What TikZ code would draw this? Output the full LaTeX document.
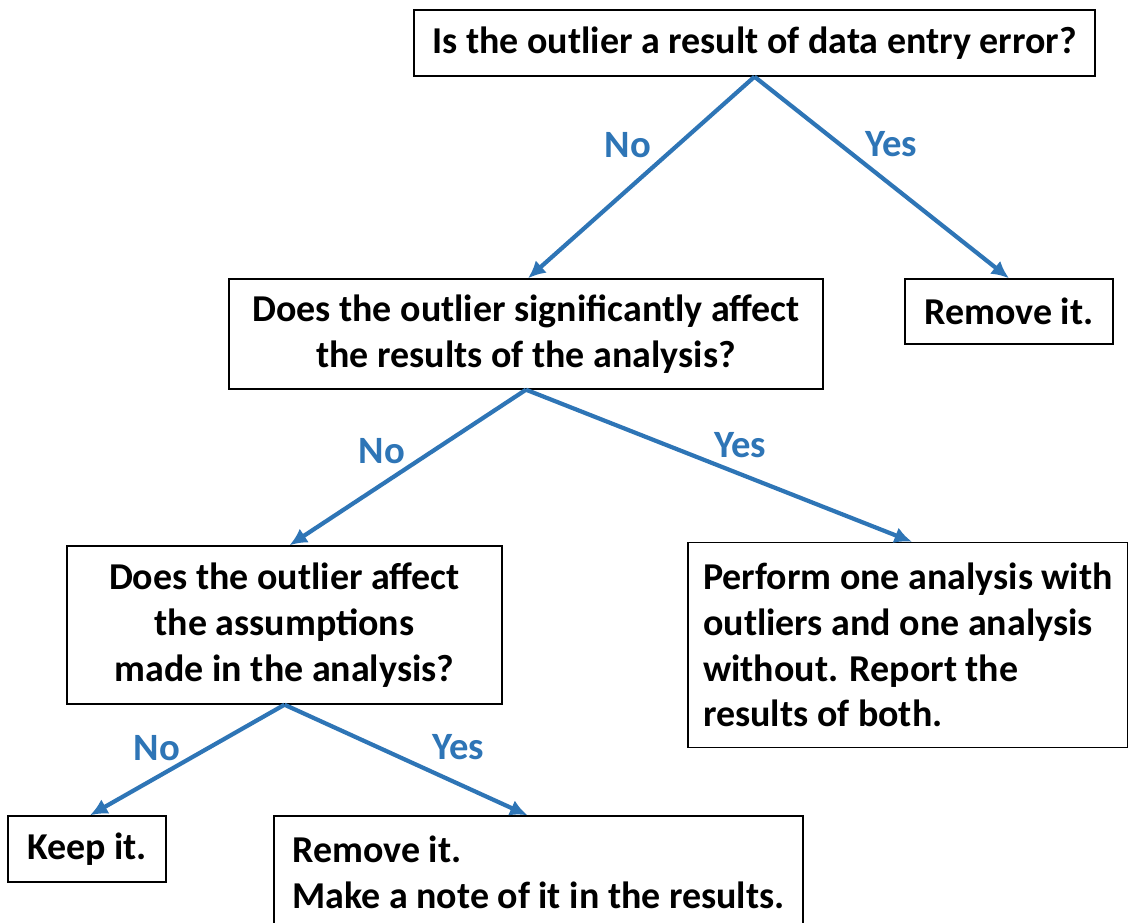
\documentclass[tikz,border=0pt]{standalone}
\usepackage{fontspec}
\setmainfont{Carlito}
\usetikzlibrary{arrows.meta}

\definecolor{yesno}{RGB}{46,117,182}

\begin{document}
\begin{tikzpicture}[
		x=0.02cm, y=-0.02cm,
		>={Latex[length=3.5mm,width=3.3mm]},
		box/.style={draw=black,line width=0.8pt,inner sep=0pt,
			font=\fontsize{21.6}{26}\selectfont\bfseries},
		choice/.style={->,draw=yesno,line width=2.4pt},
		tag/.style={text=yesno,font=\fontsize{22}{26}\selectfont\bfseries},
	]
	\useasboundingbox (0,0) rectangle (1128,922);
	% questions
	\node[box,minimum width=681*0.02cm,minimum height=66*0.02cm] (entry) at (754.5,43) {Is the outlier a result of data entry error?};
	\node[box,minimum width=594*0.02cm,minimum height=110*0.02cm,align=center] (affect) at (526,334) {Does the outlier significantly affect\\the results of the analysis?};
	\node[box,minimum width=435*0.02cm,minimum height=158*0.02cm,align=center] (assume) at (284.5,625) {Does the outlier affect\\the assumptions\\made in the analysis?};
	% outcomes
	\node[box,minimum width=208*0.02cm,minimum height=65*0.02cm] (remove) at (1009,311.5) {Remove it.};
	\node[box,minimum width=440*0.02cm,minimum height=205*0.02cm,align=left] (both) at (908,645) {Perform one analysis with\\outliers and one analysis\\without. Report the\\results of both.};
	\node[box,minimum width=529*0.02cm,minimum height=112*0.02cm,align=left] (note) at (538.5,872) {Remove it.\\Make a note of it in the results.};
	\node[box,minimum width=158*0.02cm,minimum height=66*0.02cm] (keep) at (87,849) {Keep it.};
	% connectors
	\draw[choice] (entry.south) -- ([xshift=2*0.02cm]affect.north);
	\draw[choice] (entry.south) -- (remove.north);
	\draw[choice] (affect.south) -- ([xshift=5*0.02cm]assume.north);
	\draw[choice] (affect.south) -- ([xshift=4*0.02cm]both.north);
	\draw[choice] (assume.south) -- ([xshift=3*0.02cm]keep.north);
	\draw[choice] (assume.south) -- ([xshift=-11*0.02cm]note.north);
	% labels
	\node[tag] (no1) at (628,145) {No};
	\node[tag] (yes1) at (891,144) {Yes};
	\node[tag] (no2) at (382,451) {No};
	\node[tag] (yes2) at (740,445) {Yes};
	\node[tag] (no3) at (157,748) {No};
	\node[tag] (yes3) at (458,747) {Yes};
\end{tikzpicture}
\end{document}
